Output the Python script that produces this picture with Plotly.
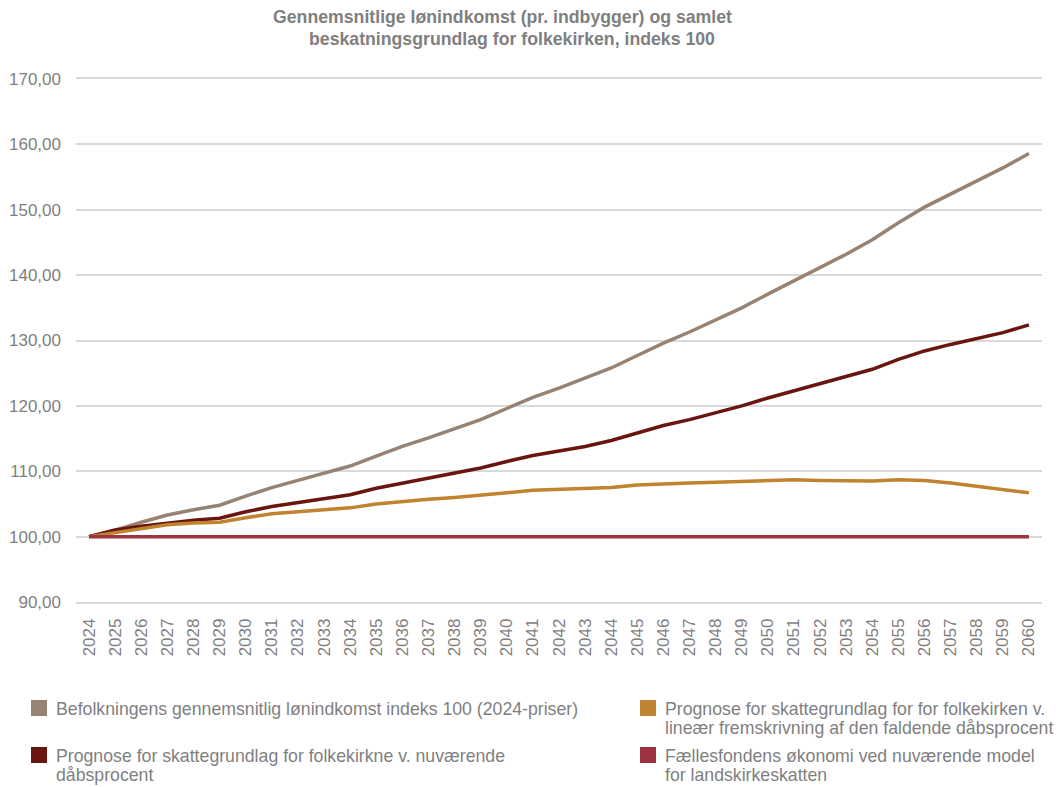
import plotly.graph_objects as go

# Years on the category axis
years = [str(y) for y in range(2024, 2061)]

# Befolkningens gennemsnitlige lønindkomst, indeks 100 (2024-priser)
lonindkomst = [100.0, 101.0, 102.2, 103.3, 104.1, 104.8, 106.2, 107.5, 108.6, 109.7,
               110.8, 112.3, 113.8, 115.1, 116.5, 117.9, 119.6, 121.3, 122.7, 124.2,
               125.8, 127.7, 129.6, 131.3, 133.1, 135.0, 137.1, 139.1, 141.1, 143.2,
               145.4, 148.0, 150.4, 152.4, 154.4, 156.4, 158.6]

# Skattegrundlag ved nuværende dåbsprocent
skat_nuvaerende = [100.0, 101.0, 101.6, 102.1, 102.5, 102.8, 103.8, 104.6, 105.2, 105.8,
                   106.4, 107.4, 108.2, 108.9, 109.7, 110.5, 111.5, 112.4, 113.1, 113.8,
                   114.7, 115.9, 117.0, 117.9, 118.9, 120.0, 121.2, 122.3, 123.3, 124.4,
                   125.6, 127.1, 128.4, 129.4, 130.3, 131.2, 132.4]

# Skattegrundlag ved lineær fremskrivning af faldende dåbsprocent
skat_lineaer = [100.0, 100.6, 101.3, 101.8, 102.1, 102.2, 102.9, 103.5, 103.8, 104.1,
                104.4, 105.0, 105.4, 105.7, 106.0, 106.3, 106.7, 107.1, 107.2, 107.3,
                107.5, 107.9, 108.1, 108.2, 108.3, 108.4, 108.6, 108.7, 108.6, 108.5,
                108.5, 108.7, 108.6, 108.2, 107.7, 107.2, 106.7]

# Fællesfondens økonomi ved nuværende model
faellesfond = [100.0, 100.0, 100.0, 100.0, 100.0, 100.0, 100.0, 100.0, 100.0, 100.0,
               100.0, 100.0, 100.0, 100.0, 100.0, 100.0, 100.0, 100.0, 100.0, 100.0,
               100.0, 100.0, 100.0, 100.0, 100.0, 100.0, 100.0, 100.0, 100.0, 100.0,
               100.0, 100.0, 100.0, 100.0, 100.0, 100.0, 100.0]

# Legend entries: (text lines, colour, key left px, key top px)
legend_items = [
    (["Befolkningens gennemsnitlig lønindkomst indeks 100 (2024-priser)"], "#978373", 31, 700),
    (["Prognose for skattegrundlag for for folkekirken v.",
      "lineær fremskrivning af den faldende dåbsprocent"], "#C0832F", 640, 700),
    (["Prognose for skattegrundlag for folkekirkne v. nuværende",
      "dåbsprocent"], "#6A1610", 31, 747),
    (["Fællesfondens økonomi ved nuværende model",
      "for landskirkeskatten"], "#9B3340", 640, 747),
]

line_colors = {"lon": "#978373", "lin": "#C0832F", "nuv": "#6A1610", "ff": "#9B3340"}

# Plot-area geometry in pixels (used to place paper-referenced items)
W, H = 1060, 787
L, R, T, B = 76, 18, 79, 185
PW, PH = W - L - R, H - T - B


def px(x):
    return (x - L) / PW


def py(y):
    return (H - B - y) / PH


fig = go.Figure()

for vals, key in [(lonindkomst, "lon"), (skat_nuvaerende, "nuv"),
                  (skat_lineaer, "lin"), (faellesfond, "ff")]:
    fig.add_trace(go.Scatter(
        x=years, y=vals, mode="lines",
        line=dict(color=line_colors[key], width=3.5),
        showlegend=False, hoverinfo="x+y",
    ))

# Title
title_font = dict(family="Liberation Sans, Arial, sans-serif", size=17.7, color="#7F7F7F")
fig.add_annotation(text="<b>Gennemsnitlige lønindkomst (pr. indbygger) og samlet</b>",
                   xref="paper", yref="paper", x=px(502), y=py(17),
                   xanchor="center", yanchor="middle", showarrow=False, font=title_font)
fig.add_annotation(text="<b>beskatningsgrundlag for folkekirken, indeks 100</b>",
                   xref="paper", yref="paper", x=px(512), y=py(39),
                   xanchor="center", yanchor="middle", showarrow=False, font=title_font)

# Legend drawn as square keys plus text lines
legend_font = dict(family="Liberation Sans, Arial, sans-serif", size=17.7, color="#7F7F7F")
for lines, col, kx, ky in legend_items:
    fig.add_shape(type="rect", xref="paper", yref="paper",
                  x0=px(kx), x1=px(kx + 16), y0=py(ky), y1=py(ky + 16),
                  fillcolor=col, line=dict(width=0))
    for i, txt in enumerate(lines):
        fig.add_annotation(text=txt, xref="paper", yref="paper",
                           x=px(kx + 23), y=py(ky + 9 + 18.5 * i),
                           xanchor="left", yanchor="middle", showarrow=False,
                           font=legend_font)

fig.update_layout(
    width=W, height=H, autosize=False,
    margin=dict(l=L, r=R, t=T, b=B, pad=0),
    paper_bgcolor="white", plot_bgcolor="white",
    separators=",.",
    showlegend=False,
    font=dict(family="Liberation Sans, Arial, sans-serif", color="#7F7F7F"),
    xaxis=dict(
        type="category", range=[-0.5, len(years) - 0.5],
        showgrid=False, zeroline=False,
        showline=True, mirror=True, linecolor="#D9D9D9", linewidth=1.5,
        tickangle=-90, tickfont=dict(size=17, color="#7F7F7F"),
        ticks="", ticklabelstandoff=8, automargin=False,
    ),
    yaxis=dict(
        range=[90, 170], dtick=10, tickformat=".2f",
        showgrid=True, gridcolor="#D9D9D9", gridwidth=1.5,
        zeroline=False, showline=False, ticks="",
        tickfont=dict(size=17, color="#7F7F7F"), ticklabelstandoff=14,
        automargin=False,
    ),
)

fig.write_html("out.html")
